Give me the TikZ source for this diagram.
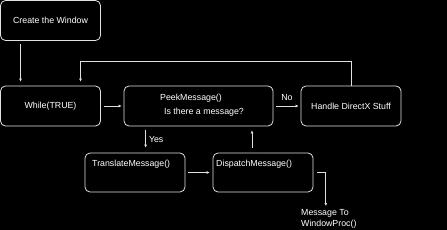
\documentclass[tikz,border=0pt]{standalone}
\usepackage{fontspec}
\setmainfont{Liberation Sans}
\usetikzlibrary{arrows.meta}

\begin{document}
\begin{tikzpicture}[
  x=1pt,y=-1pt,
  box/.style={draw=white!88!black,line width=0.8pt,rounded corners=5pt,minimum width=100pt,minimum height=40pt,inner sep=0pt},
  label/.style={font=\fontsize{8.8}{11}\selectfont,text=white,inner sep=0pt},
  arr/.style={draw=white!88!black,line width=0.8pt,-{Latex[length=3pt,width=3pt]}},
]

\fill[black] (0,0) rectangle (447,230);
\useasboundingbox (0,0) rectangle (447,230);

\node[box,label] (create) at (50.5,20.5) {Create the Window};
\node[box,label] (while) at (50.5,106) {While(TRUE)};
\node[box,minimum width=149pt] (peek) at (198.5,106) {};
\node[label] at (191,98) {PeekMessage()};
\node[label] at (204,112) {Is there a message?};
\node[box,label] (handle) at (351,106) {Handle DirectX Stuff};

\node[box,minimum height=39pt] (translate) at (135,172.5) {};
\node[label,anchor=west] at (92,164) {TranslateMessage()};
\node[box,minimum height=39pt] (dispatch) at (263,172.5) {};
\node[label,anchor=west] at (216,164) {DispatchMessage()};
\node[label,align=left,anchor=north west] (proc) at (301,209) {Message To\\WindowProc()};

\draw[arr,shorten <=3pt,shorten >=4pt] ([xshift=-30pt]create.south) -- ([xshift=-30pt]while.north);
\draw[arr,shorten >=4pt] (handle.north) -- ++(0,-24) -| ([xshift=30pt]while.north);
\draw[arr,shorten <=3pt,shorten >=2pt] (while.east) -- (peek.west);
\draw[arr,shorten <=3pt,shorten >=2pt] (peek.east) -- (handle.west)
  node[label,midway,above=5pt] {No};

\coordinate (yes) at ([xshift=22pt]peek.south west);
\draw[arr,shorten <=4pt,shorten >=5pt] (yes) -- (yes |- translate.north)
  node[label,midway,right=3pt] {Yes};
\draw[arr,shorten <=3pt,shorten >=3pt] (translate.east) -- (dispatch.west);

\coordinate (back) at ([xshift=-11pt]dispatch.north);
\draw[arr,shorten <=5pt,shorten >=4pt] (back) -- (back |- peek.south);
\draw[arr,shorten >=3pt] ([xshift=4pt]dispatch.east) -| ([xshift=-3pt]proc.north);

\end{tikzpicture}
\end{document}
